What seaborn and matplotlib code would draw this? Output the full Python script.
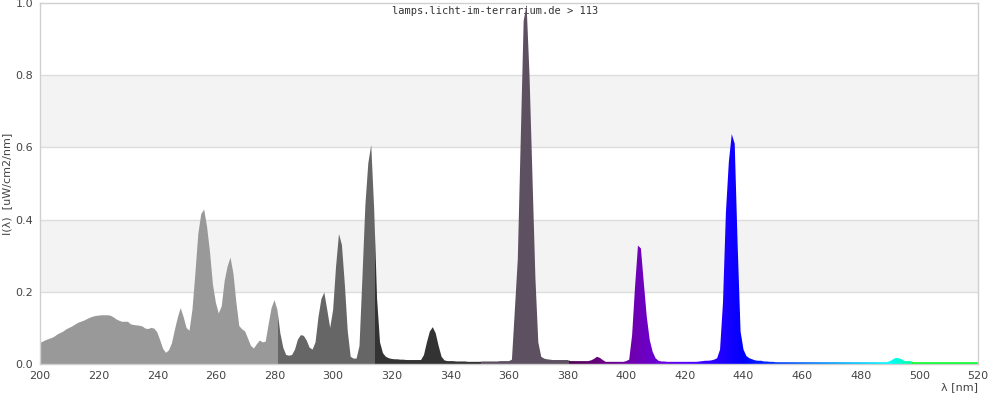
import numpy as np
import pandas as pd
import matplotlib
matplotlib.use("Agg")
import matplotlib.pyplot as plt
from matplotlib.colors import to_rgb
import seaborn as sns

# wavelengths in nm, one sample per nm
wavelengths = list(range(200, 521))

# I(lambda) in uW/cm2/nm
uvc_200_249 = [0.058, 0.062, 0.066, 0.069, 0.072, 0.076, 0.082, 0.086, 0.090, 0.096,
               0.100, 0.104, 0.109, 0.114, 0.117, 0.120, 0.124, 0.128, 0.131, 0.133,
               0.134, 0.135, 0.135, 0.135, 0.134, 0.130, 0.124, 0.120, 0.117, 0.117,
               0.117, 0.110, 0.108, 0.107, 0.106, 0.104, 0.098, 0.097, 0.100, 0.098,
               0.088, 0.066, 0.042, 0.031, 0.038, 0.057, 0.094, 0.128, 0.155, 0.130]
uv_250_299 = [0.100, 0.092, 0.150, 0.250, 0.360, 0.415, 0.428, 0.380, 0.310, 0.220,
              0.170, 0.140, 0.160, 0.230, 0.270, 0.295, 0.250, 0.170, 0.105, 0.096,
              0.090, 0.070, 0.050, 0.043, 0.055, 0.065, 0.060, 0.062, 0.110, 0.155,
              0.177, 0.150, 0.085, 0.045, 0.025, 0.023, 0.025, 0.040, 0.068, 0.080,
              0.078, 0.065, 0.045, 0.040, 0.060, 0.130, 0.180, 0.198, 0.150, 0.100]
uv_300_349 = [0.150, 0.270, 0.360, 0.330, 0.220, 0.090, 0.020, 0.015, 0.015, 0.050,
              0.240, 0.440, 0.556, 0.607, 0.430, 0.180, 0.060, 0.030, 0.020, 0.016,
              0.014, 0.013, 0.013, 0.012, 0.012, 0.011, 0.011, 0.011, 0.011, 0.011,
              0.011, 0.025, 0.060, 0.090, 0.102, 0.085, 0.050, 0.020, 0.010, 0.008,
              0.008, 0.008, 0.007, 0.007, 0.007, 0.007, 0.006, 0.006, 0.006, 0.006]
uva_350_399 = [0.006, 0.007, 0.007, 0.007, 0.007, 0.007, 0.007, 0.008, 0.008, 0.008,
               0.008, 0.012, 0.150, 0.290, 0.620, 0.950, 0.995, 0.800, 0.520, 0.240,
               0.060, 0.020, 0.015, 0.013, 0.012, 0.011, 0.011, 0.011, 0.011, 0.011,
               0.011, 0.008, 0.008, 0.008, 0.008, 0.008, 0.008, 0.008, 0.010, 0.014,
               0.020, 0.017, 0.011, 0.006, 0.006, 0.006, 0.006, 0.006, 0.006, 0.006]
vis_400_449 = [0.008, 0.012, 0.080, 0.214, 0.328, 0.320, 0.224, 0.131, 0.067, 0.034,
               0.016, 0.009, 0.007, 0.007, 0.006, 0.006, 0.006, 0.006, 0.006, 0.006,
               0.006, 0.006, 0.006, 0.006, 0.006, 0.007, 0.008, 0.009, 0.009, 0.010,
               0.012, 0.016, 0.040, 0.170, 0.420, 0.560, 0.637, 0.610, 0.330, 0.090,
               0.040, 0.022, 0.016, 0.013, 0.010, 0.009, 0.009, 0.007, 0.007, 0.006]
vis_450_499 = [0.006, 0.005, 0.005, 0.005, 0.005, 0.005, 0.005, 0.005, 0.005, 0.005,
               0.005, 0.005, 0.005, 0.005, 0.005, 0.005, 0.005, 0.005, 0.005, 0.005,
               0.005, 0.005, 0.005, 0.005, 0.005, 0.005, 0.005, 0.005, 0.005, 0.005,
               0.005, 0.005, 0.005, 0.005, 0.005, 0.005, 0.005, 0.005, 0.005, 0.005,
               0.008, 0.013, 0.017, 0.016, 0.013, 0.008, 0.008, 0.008, 0.005, 0.005]
vis_500_520 = [0.005, 0.005, 0.005, 0.005, 0.005, 0.005, 0.005, 0.005, 0.005, 0.005,
               0.005, 0.005, 0.005, 0.005, 0.005, 0.005, 0.005, 0.005, 0.005, 0.005,
               0.005]

intensity = (uvc_200_249 + uv_250_299 + uv_300_349 + uva_350_399
             + vis_400_449 + vis_450_499 + vis_500_520)

df = pd.DataFrame({"wl": wavelengths, "I": intensity})


def band_color(w):
    # grey shades for the UV bands, spectrum colours above 380 nm
    if w < 281.1:
        return to_rgb("#999999")
    if w < 314.3:
        return to_rgb("#666666")
    if w < 350.5:
        return to_rgb("#333333")
    if w < 380.5:
        return to_rgb("#5d5060")
    if w >= 497.4:
        return to_rgb("#00ff22")
    if w < 440:
        r, g, b = (440 - w) / 60, 0.0, 1.0
    elif w < 490:
        r, g, b = 0.0, (w - 440) / 50, 1.0
    else:
        r, g, b = 0.0, 1.0, (510 - w) / 20
    f = 0.3 + 0.7 * (w - 380) / 40 if w < 420 else 1.0
    return (r * f, g * f, b * f)


sns.set_theme(style="white")
plt.rcParams['font.family'] = ['DejaVu Sans']

fig, ax = plt.subplots(figsize=(10, 4), dpi=100)
fig.subplots_adjust(left=0.04, right=0.978, bottom=0.09, top=0.9925)

# light bands + grid
for lo, hi in [(0.2, 0.4), (0.6, 0.8)]:
    ax.axhspan(lo, hi, color="#f3f3f3", lw=0, zorder=0)
for yv in [0.2, 0.4, 0.6, 0.8]:
    ax.axhline(yv, color="#dddddd", lw=1, zorder=0.5)

# spectrum outline as a seaborn polygon, then filled with the wavelength colours
n_before = len(ax.collections)
sns.histplot(data=df, x="wl", weights="I", binwidth=1, binrange=(199.5, 520.5),
             stat="count", element="poly", fill=True, alpha=1, linewidth=0, ax=ax)
poly = ax.collections[n_before]
poly.set_facecolor("none")

grid = np.arange(199.5, 520.5, 0.05)
img = np.array([[band_color(w) for w in grid]])
im = ax.imshow(img, extent=[grid[0], grid[-1], 0, 1.05], aspect="auto",
               interpolation="nearest", origin="lower", zorder=2)
im.set_clip_path(poly.get_paths()[0], transform=ax.transData)

ax.set_xlim(200, 520)
ax.set_ylim(0, 1.0)
ax.set_xticks(range(200, 521, 20))
ax.set_yticks([0.0, 0.2, 0.4, 0.6, 0.8, 1.0])
ax.set_yticklabels(["0.0", "0.2", "0.4", "0.6", "0.8", "1.0"])
ax.tick_params(axis="both", length=0, labelsize=8, labelcolor="#444444", pad=5)
for s in ax.spines.values():
    s.set_color("#d0d0d0")
    s.set_linewidth(1)
    s.set_zorder(3)

ax.set_ylabel("I(λ)  [uW/cm2/nm]", fontsize=8, color="#444444", labelpad=2)
ax.set_xlabel("λ [nm]", fontsize=8, color="#444444", loc="right", labelpad=1)

ax.text(0.485, 0.978, "lamps.licht-im-terrarium.de > 113", transform=ax.transAxes,
        ha="center", va="center", fontsize=7.5, family="DejaVu Sans Mono",
        color="#333333", zorder=1)

plt.savefig("out.png", dpi=100)
